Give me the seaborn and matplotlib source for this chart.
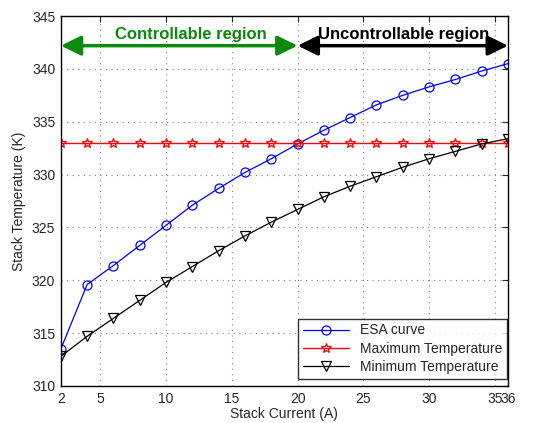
import matplotlib
matplotlib.use("Agg")
import matplotlib.pyplot as plt
import seaborn as sns
import numpy as np
import pandas as pd

current = [2, 4, 6, 8, 10, 12, 14, 16, 18, 20, 22, 24, 26, 28, 30, 32, 34, 36]
esa_curve = [313.5, 319.6, 321.4, 323.3, 325.2, 327.1, 328.7, 330.2, 331.5, 332.9,
             334.2, 335.4, 336.6, 337.5, 338.3, 339.0, 339.8, 340.5]
max_temp = [333.0] * 18
min_temp = [312.8, 314.7, 316.4, 318.1, 319.8, 321.3, 322.8, 324.2, 325.5, 326.7,
            327.9, 328.9, 329.8, 330.7, 331.5, 332.2, 332.9, 333.4]
xticks = [2, 5, 10, 15, 20, 25, 30, 35, 36]
yticks = [310, 315, 320, 325, 330, 335, 340, 345]

sns.set_style("white")
plt.rcParams['font.family'] = ['Liberation Sans', 'DejaVu Sans']

fig = plt.figure(figsize=(5.48, 4.23), dpi=100)
ax = fig.add_axes([0.111, 0.0875, 0.816, 0.8745])

df = pd.DataFrame({"I": current, "esa": esa_curve, "mx": max_temp, "mn": min_temp})
sns.lineplot(data=df, x="I", y="esa", ax=ax, color="blue", lw=0.9, marker="o",
             markersize=6.5, markerfacecolor="none", markeredgecolor="blue",
             markeredgewidth=0.9, label="ESA curve")
sns.lineplot(data=df, x="I", y="mx", ax=ax, color="red", lw=1.0, marker="*",
             markersize=7.5, markerfacecolor="none", markeredgecolor="red",
             markeredgewidth=0.9, label="Maximum Temperature")
sns.lineplot(data=df, x="I", y="mn", ax=ax, color="black", lw=0.9, marker="v",
             markersize=7, markerfacecolor="none", markeredgecolor="black",
             markeredgewidth=0.9, label="Minimum Temperature")

ax.set_xlim(2, 36)
ax.set_ylim(310, 345)
ax.set_xticks(xticks)
ax.set_yticks(yticks)
ax.tick_params(axis='both', direction='in', length=4, labelsize=10, width=0.8,
               top=True, right=True, pad=4)
ax.grid(True, linestyle=(0, (1, 4)), color='gray', lw=0.8)
for s in ax.spines.values():
    s.set_linewidth(1.0)
    s.set_color('black')
ax.set_xlabel("Stack Current (A)", fontsize=10, labelpad=1)
ax.set_ylabel("Stack Temperature (K)", fontsize=10, labelpad=4)

# region arrows
astyle = "<|-|>,head_length=0.55,head_width=0.27"
ax.annotate("", xy=(2, 342.2), xytext=(20, 342.2),
            arrowprops=dict(arrowstyle=astyle, color="#0a8a0a", lw=2.5,
                            mutation_scale=22, shrinkA=0, shrinkB=0))
ax.annotate("", xy=(20, 342.2), xytext=(36, 342.2),
            arrowprops=dict(arrowstyle=astyle, color="black", lw=2.5,
                            mutation_scale=22, shrinkA=0, shrinkB=0))
ax.text(11.9, 343.3, "Controllable region", color="#0a8a0a", fontsize=12,
        fontweight='bold', ha='center', va='center')
ax.text(28.1, 343.3, "Uncontrollable region", color="black", fontsize=12,
        fontweight='bold', ha='center', va='center')

leg = ax.legend(loc="lower right", bbox_to_anchor=(0.998, 0.02), fontsize=10,
                frameon=True, fancybox=False, borderpad=0.35, labelspacing=0.3,
                handlelength=3.3, borderaxespad=0.0)
leg.get_frame().set_edgecolor('black')
leg.get_frame().set_linewidth(1.0)

fig.savefig("out.png", dpi=100)
